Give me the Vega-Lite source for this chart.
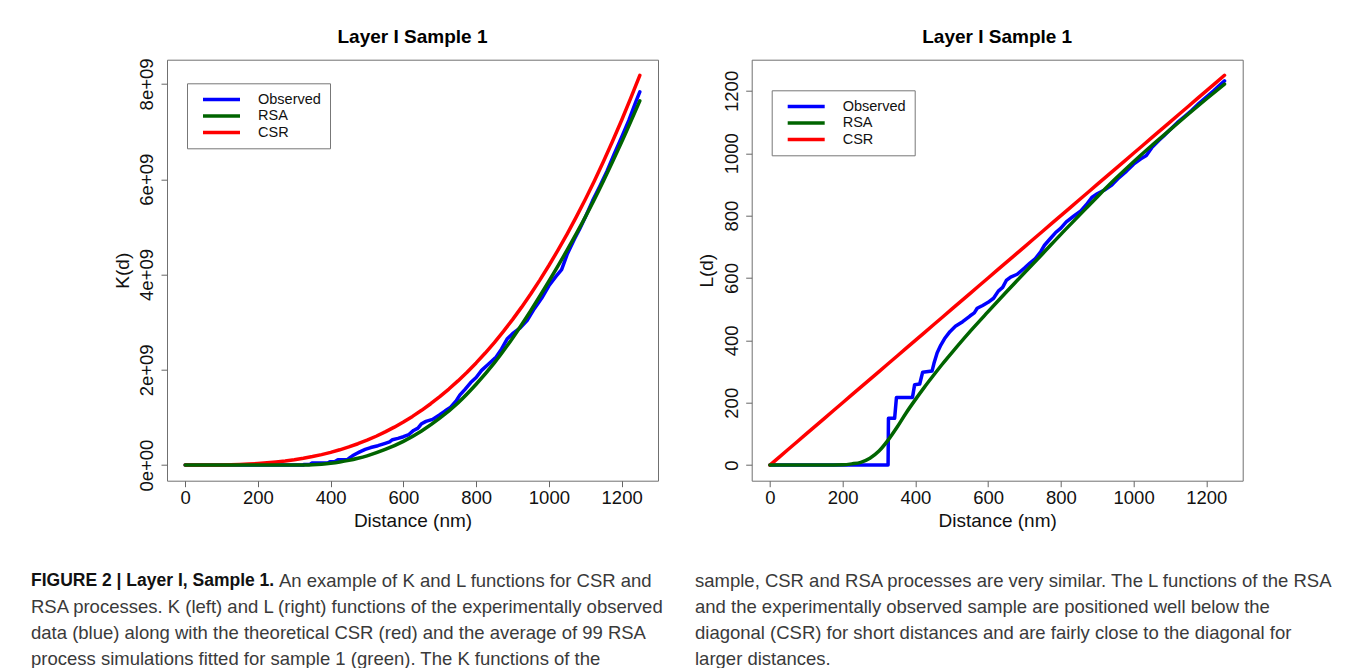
{
  "$schema": "https://vega.github.io/schema/vega-lite/v6.json",
  "autosize": {"type": "none"},
  "padding": {"left": 167, "top": 59.7, "right": 1188, "bottom": 608.3},
  "background": "white",
  "columns": 2,
  "bounds": "flush",
  "spacing": {"row": 87, "column": 93.7},
  "resolve": {
    "scale": {"x": "independent", "y": "independent", "color": "independent"},
    "legend": {"color": "independent"},
    "axis": {"x": "independent", "y": "independent"}
  },
  "datasets": {
    "obs": [
      {"d": 0, "L": 0, "K": 0}, {"d": 325, "L": 0, "K": 0}, {"d": 326, "L": 150, "K": 14137000},
      {"d": 343, "L": 150, "K": 14137000}, {"d": 348, "L": 217, "K": 42802000}, {"d": 392, "L": 217, "K": 42802000},
      {"d": 398, "L": 258, "K": 71936000}, {"d": 412, "L": 260, "K": 73622000}, {"d": 420, "L": 298, "K": 110851000},
      {"d": 446, "L": 302, "K": 115374000}, {"d": 452, "L": 330, "K": 150533000}, {"d": 460, "L": 360, "K": 195432000},
      {"d": 470, "L": 385, "K": 239040000}, {"d": 480, "L": 405, "K": 278261000}, {"d": 495, "L": 428, "K": 328414000},
      {"d": 510, "L": 445, "K": 369122000}, {"d": 530, "L": 460, "K": 407721000}, {"d": 550, "L": 478, "K": 457482000},
      {"d": 562, "L": 488, "K": 486799000}, {"d": 570, "L": 503, "K": 533082000}, {"d": 585, "L": 512, "K": 562211000},
      {"d": 600, "L": 522, "K": 595800000}, {"d": 615, "L": 535, "K": 641431000}, {"d": 628, "L": 558, "K": 727766000},
      {"d": 640, "L": 570, "K": 775735000}, {"d": 650, "L": 592, "K": 869068000}, {"d": 662, "L": 603, "K": 918418000},
      {"d": 680, "L": 612, "K": 960158000}, {"d": 700, "L": 632, "K": 1057400000}, {"d": 715, "L": 648, "K": 1139760000},
      {"d": 730, "L": 662, "K": 1215240000}, {"d": 745, "L": 685, "K": 1346360000}, {"d": 755, "L": 705, "K": 1467770000},
      {"d": 770, "L": 725, "K": 1596260000}, {"d": 785, "L": 745, "K": 1732040000}, {"d": 800, "L": 760, "K": 1838780000},
      {"d": 815, "L": 780, "K": 1987800000}, {"d": 835, "L": 798, "K": 2128620000}, {"d": 855, "L": 815, "K": 2267580000},
      {"d": 870, "L": 835, "K": 2438640000}, {"d": 885, "L": 858, "K": 2645760000}, {"d": 900, "L": 870, "K": 2758340000},
      {"d": 920, "L": 882, "K": 2874060000}, {"d": 940, "L": 898, "K": 3033320000}, {"d": 960, "L": 922, "K": 3283090000},
      {"d": 980, "L": 942, "K": 3501410000}, {"d": 1000, "L": 965, "K": 3764190000}, {"d": 1020, "L": 982, "K": 3966660000},
      {"d": 1035, "L": 993, "K": 4101450000}, {"d": 1050, "L": 1018, "K": 4419100000}, {"d": 1070, "L": 1042, "K": 4739070000},
      {"d": 1085, "L": 1058, "K": 4960750000}, {"d": 1100, "L": 1075, "K": 5203730000}, {"d": 1120, "L": 1098, "K": 5544940000},
      {"d": 1140, "L": 1118, "K": 5853490000}, {"d": 1160, "L": 1138, "K": 6173290000}, {"d": 1180, "L": 1160, "K": 6538290000},
      {"d": 1200, "L": 1180, "K": 6882340000}, {"d": 1220, "L": 1200, "K": 7238230000}, {"d": 1240, "L": 1222, "K": 7643670000},
      {"d": 1250, "L": 1232, "K": 7832860000}
    ],
    "rsa": [
      {"d": 0, "L": 0, "K": 0}, {"d": 150, "L": 0, "K": 0}, {"d": 200, "L": 1, "K": 4}, {"d": 225, "L": 4, "K": 268},
      {"d": 250, "L": 9, "K": 3054}, {"d": 275, "L": 22, "K": 44603}, {"d": 300, "L": 45, "K": 381700},
      {"d": 325, "L": 80, "K": 2144700}, {"d": 350, "L": 122, "K": 7606000}, {"d": 375, "L": 168, "K": 19862000},
      {"d": 400, "L": 210, "K": 38792000}, {"d": 425, "L": 250, "K": 65450000}, {"d": 450, "L": 288, "K": 100060000},
      {"d": 475, "L": 325, "K": 143790000}, {"d": 500, "L": 360, "K": 195430000}, {"d": 550, "L": 428, "K": 328410000},
      {"d": 600, "L": 492, "K": 498860000}, {"d": 650, "L": 555, "K": 716090000}, {"d": 700, "L": 617, "K": 983880000},
      {"d": 750, "L": 678, "K": 1305500000}, {"d": 800, "L": 740, "K": 1697400000}, {"d": 850, "L": 800, "K": 2144660000},
      {"d": 900, "L": 860, "K": 2664310000}, {"d": 950, "L": 918, "K": 3240540000}, {"d": 1000, "L": 973, "K": 3858570000},
      {"d": 1050, "L": 1025, "K": 4510870000}, {"d": 1100, "L": 1075, "K": 5203730000}, {"d": 1150, "L": 1125, "K": 5964140000},
      {"d": 1200, "L": 1174, "K": 6777900000}, {"d": 1250, "L": 1222, "K": 7643670000}
    ],
    "csr": [
      {"d": 0, "L": 0, "K": 0}, {"d": 25, "L": 25, "K": 65450}, {"d": 50, "L": 50, "K": 523600},
      {"d": 75, "L": 75, "K": 1767100}, {"d": 100, "L": 100, "K": 4188800}, {"d": 125, "L": 125, "K": 8181200},
      {"d": 150, "L": 150, "K": 14137000}, {"d": 175, "L": 175, "K": 22449000}, {"d": 200, "L": 200, "K": 33510000},
      {"d": 225, "L": 225, "K": 47715000}, {"d": 250, "L": 250, "K": 65450000}, {"d": 275, "L": 275, "K": 87114000},
      {"d": 300, "L": 300, "K": 113100000}, {"d": 325, "L": 325, "K": 143790000}, {"d": 350, "L": 350, "K": 179590000},
      {"d": 375, "L": 375, "K": 220890000}, {"d": 400, "L": 400, "K": 268080000}, {"d": 425, "L": 425, "K": 321560000},
      {"d": 450, "L": 450, "K": 381700000}, {"d": 475, "L": 475, "K": 448920000}, {"d": 500, "L": 500, "K": 523600000},
      {"d": 525, "L": 525, "K": 606130000}, {"d": 550, "L": 550, "K": 696910000}, {"d": 575, "L": 575, "K": 796330000},
      {"d": 600, "L": 600, "K": 904780000}, {"d": 625, "L": 625, "K": 1022660000}, {"d": 650, "L": 650, "K": 1150350000},
      {"d": 675, "L": 675, "K": 1288260000}, {"d": 700, "L": 700, "K": 1436760000}, {"d": 725, "L": 725, "K": 1596260000},
      {"d": 750, "L": 750, "K": 1767150000}, {"d": 775, "L": 775, "K": 1949810000}, {"d": 800, "L": 800, "K": 2144660000},
      {"d": 825, "L": 825, "K": 2352070000}, {"d": 850, "L": 850, "K": 2572440000}, {"d": 875, "L": 875, "K": 2806160000},
      {"d": 900, "L": 900, "K": 3053630000}, {"d": 925, "L": 925, "K": 3315230000}, {"d": 950, "L": 950, "K": 3591370000},
      {"d": 975, "L": 975, "K": 3882420000}, {"d": 1000, "L": 1000, "K": 4188790000}, {"d": 1025, "L": 1025, "K": 4510870000},
      {"d": 1050, "L": 1050, "K": 4849050000}, {"d": 1075, "L": 1075, "K": 5203730000}, {"d": 1100, "L": 1100, "K": 5575300000},
      {"d": 1125, "L": 1125, "K": 5964140000}, {"d": 1150, "L": 1150, "K": 6370660000}, {"d": 1175, "L": 1175, "K": 6795230000},
      {"d": 1200, "L": 1200, "K": 7238230000}, {"d": 1225, "L": 1225, "K": 7700110000}, {"d": 1250, "L": 1250, "K": 8181230000}
    ],
    "cap": [
      {"col": "L", "seg": "head", "line": 1, "text": "FIGURE 2 | Layer I, Sample 1."},
      {"col": "L", "seg": "lead", "line": 1, "text": "An example of K and L functions for CSR and"},
      {"col": "L", "seg": "body", "line": 2, "text": "RSA processes. K (left) and L (right) functions of the experimentally observed"},
      {"col": "L", "seg": "body", "line": 3, "text": "data (blue) along with the theoretical CSR (red) and the average of 99 RSA"},
      {"col": "L", "seg": "body", "line": 4, "text": "process simulations fitted for sample 1 (green). The K functions of the"},
      {"col": "R", "seg": "body", "line": 1, "text": "sample, CSR and RSA processes are very similar. The L functions of the RSA"},
      {"col": "R", "seg": "body", "line": 2, "text": "and the experimentally observed sample are positioned well below the"},
      {"col": "R", "seg": "body", "line": 3, "text": "diagonal (CSR) for short distances and are fairly close to the diagonal for"},
      {"col": "R", "seg": "body", "line": 4, "text": "larger distances."}
    ]
  },
  "concat": [
    {
      "width": 491,
      "height": 421,
      "title": {"text": "Layer I Sample 1", "offset": 11},
      "layer": [
        {
          "data": {"name": "obs"},
          "mark": {"type": "line"},
          "encoding": {
            "x": {"field": "d", "type": "quantitative", "scale": {"domain": [-50, 1300], "nice": false, "zero": false},
                  "axis": {"values": [0, 200, 400, 600, 800, 1000, 1200], "format": "d", "title": "Distance (nm)"}},
            "y": {"field": "K", "type": "quantitative", "scale": {"domain": [-327000000, 8508000000], "nice": false, "zero": false},
                  "axis": {"values": [0, 2000000000, 4000000000, 6000000000, 8000000000], "title": "K(d)",
                           "labelExpr": "datum.value == 0 ? '0e+00' : format(datum.value / 1000000000, 'd') + 'e+09'"}},
            "color": {"datum": "Observed", "type": "nominal",
                      "scale": {"domain": ["Observed", "RSA", "CSR"], "range": ["#0000ff", "#006400", "#ff0000"]},
                      "legend": {"title": null, "orient": "none", "legendX": 20, "legendY": 23.6}}
          }
        },
        {
          "data": {"name": "csr"},
          "mark": {"type": "line"},
          "encoding": {
            "x": {"field": "d", "type": "quantitative"},
            "y": {"field": "K", "type": "quantitative"},
            "color": {"datum": "CSR", "type": "nominal"}
          }
        },
        {
          "data": {"name": "rsa"},
          "mark": {"type": "line", "interpolate": "monotone"},
          "encoding": {
            "x": {"field": "d", "type": "quantitative"},
            "y": {"field": "K", "type": "quantitative"},
            "color": {"datum": "RSA", "type": "nominal"}
          }
        }
      ]
    },
    {
      "width": 491,
      "height": 421,
      "title": {"text": "Layer I Sample 1", "offset": 13},
      "layer": [
        {
          "data": {"name": "obs"},
          "mark": {"type": "line"},
          "encoding": {
            "x": {"field": "d", "type": "quantitative", "scale": {"domain": [-50, 1300], "nice": false, "zero": false},
                  "axis": {"values": [0, 200, 400, 600, 800, 1000, 1200], "format": "d", "title": "Distance (nm)"}},
            "y": {"field": "L", "type": "quantitative", "scale": {"domain": [-50, 1300], "nice": false, "zero": false},
                  "axis": {"values": [0, 200, 400, 600, 800, 1000, 1200], "format": "d", "title": "L(d)"}},
            "color": {"datum": "Observed", "type": "nominal",
                      "scale": {"domain": ["Observed", "RSA", "CSR"], "range": ["#0000ff", "#006400", "#ff0000"]},
                      "legend": {"title": null, "orient": "none", "legendX": 20, "legendY": 30.6}}
          }
        },
        {
          "data": {"name": "csr"},
          "mark": {"type": "line"},
          "encoding": {
            "x": {"field": "d", "type": "quantitative"},
            "y": {"field": "L", "type": "quantitative"},
            "color": {"datum": "CSR", "type": "nominal"}
          }
        },
        {
          "data": {"name": "rsa"},
          "mark": {"type": "line", "interpolate": "monotone"},
          "encoding": {
            "x": {"field": "d", "type": "quantitative"},
            "y": {"field": "L", "type": "quantitative"},
            "color": {"datum": "RSA", "type": "nominal"}
          }
        }
      ]
    },
    {
      "width": 1,
      "height": 104,
      "view": {"stroke": null},
      "data": {"name": "cap"},
      "encoding": {
        "y": {"field": "line", "type": "ordinal", "axis": null, "scale": {"domain": [1, 2, 3, 4]}},
        "text": {"field": "text"}
      },
      "layer": [
        {
          "transform": [{"filter": "datum.col == 'L' && datum.seg == 'head'"}],
          "mark": {"type": "text", "align": "left", "baseline": "middle", "fontSize": 17.5, "fontWeight": "bold", "color": "#111", "dx": -136.5}
        },
        {
          "transform": [{"filter": "datum.col == 'L' && datum.seg == 'lead'"}],
          "mark": {"type": "text", "align": "left", "baseline": "middle", "fontSize": 18.5, "color": "#3a3a3a", "dx": 111.5}
        },
        {
          "transform": [{"filter": "datum.col == 'L' && datum.seg == 'body'"}],
          "mark": {"type": "text", "align": "left", "baseline": "middle", "fontSize": 18.5, "color": "#3a3a3a", "dx": -136.5}
        }
      ]
    },
    {
      "width": 1,
      "height": 104,
      "view": {"stroke": null},
      "data": {"name": "cap"},
      "transform": [{"filter": "datum.col == 'R'"}],
      "mark": {"type": "text", "align": "left", "baseline": "middle", "fontSize": 18.5, "color": "#3a3a3a", "dx": -57.2},
      "encoding": {
        "y": {"field": "line", "type": "ordinal", "axis": null, "scale": {"domain": [1, 2, 3, 4]}},
        "text": {"field": "text"}
      }
    }
  ],
  "config": {
    "font": "Liberation Sans",
    "view": {"stroke": "#707070", "strokeWidth": 1},
    "line": {"strokeWidth": 3.5, "strokeCap": "round", "strokeJoin": "round"},
    "title": {"font": "Liberation Sans", "fontSize": 19, "fontWeight": "bold", "color": "#000", "frame": "group", "anchor": "middle"},
    "axis": {
      "grid": false, "domain": false, "tickColor": "#666", "tickSize": 6, "tickWidth": 1,
      "labelFont": "Liberation Sans", "labelFontSize": 18.5, "labelColor": "#111",
      "titleFont": "Liberation Sans", "titleFontSize": 19, "titleFontWeight": "normal", "titleColor": "#111",
      "labelFlush": false, "labelOverlap": false
    },
    "axisX": {"labelPadding": 1.5, "titlePadding": 5},
    "axisY": {"labelAngle": -90, "labelAlign": "center", "labelBaseline": "bottom", "labelPadding": 4.5, "titlePadding": 5.5},
    "legend": {
      "strokeColor": "#777", "fillColor": "white", "padding": 9,
      "symbolType": "M-0.05,0H7.35", "symbolSize": 100, "symbolStrokeWidth": 4,
      "labelFont": "Liberation Sans", "labelFontSize": 14.5, "labelColor": "#111",
      "labelOffset": 47.5, "rowPadding": 1.5, "labelLimit": 300
    }
  }
}
